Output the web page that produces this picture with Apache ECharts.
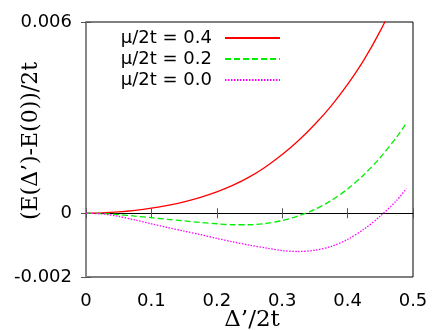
<!DOCTYPE html>
<html>
<head>
<meta charset="utf-8">
<script src="https://cdn.jsdelivr.net/npm/echarts@6/dist/echarts.min.js"></script>
<style>html,body{margin:0;padding:0;background:#fff}#c{width:436px;height:330px}</style>
</head>
<body>
<div id="c"></div>
<script>
var xs = [0, 0.025, 0.05, 0.075, 0.1, 0.125, 0.15, 0.175, 0.2, 0.225, 0.25, 0.275, 0.3, 0.325, 0.35, 0.375, 0.4, 0.425, 0.45, 0.475, 0.49];
var mu04 = [0, 0.00001, 0.00004, 0.00009, 0.00016, 0.00025, 0.00036, 0.0005, 0.00067, 0.00088, 0.00114, 0.00146, 0.00184, 0.00228, 0.00279, 0.00337, 0.00404, 0.00481, 0.00572, 0.00677, null];
var mu02 = [0, -0.00001, -0.00004, -0.00009, -0.00014, -0.00019, -0.00024, -0.00029, -0.00033, -0.00036, -0.00036, -0.00032, -0.00023, -0.00008, 0.00012, 0.0004, 0.00076, 0.00121, 0.00175, 0.00239, 0.00283];
var mu00 = [0, -0.00002, -0.0001, -0.00021, -0.00033, -0.00045, -0.00056, -0.00067, -0.00079, -0.0009, -0.001, -0.00109, -0.00117, -0.0012, -0.00116, -0.00104, -0.00082, -0.0005, -0.00009, 0.0004, 0.00078];
var seriesNames = ['\u03bc/2t = 0.4', '\u03bc/2t = 0.2', '\u03bc/2t = 0.0'];
var yTicks = [-0.002, 0, 0.006];
var yTickLabels = ['-0.002', '0', '0.006'];

function pairs(ys) {
  var out = [];
  for (var i = 0; i < xs.length; i++) { if (ys[i] !== null) out.push([xs[i], ys[i]]); }
  return out;
}

var chart = echarts.init(document.getElementById('c'), null, {renderer: 'canvas'});
var sans = 'DejaVu Sans';
var tickLabel = {fontFamily: sans, fontSize: 18, color: '#000'};
chart.setOption({
  animation: false,
  grid: {left: 86, right: 23, top: 22, bottom: 53, show: true, borderColor: '#000', borderWidth: 1, containLabel: false},
  legend: {
    orient: 'vertical', right: 150, top: 24, align: 'right',
    itemWidth: 55, itemHeight: 10, itemGap: 3,
    itemStyle: {opacity: 0},
    textStyle: {fontFamily: sans, fontSize: 18, color: '#000', lineHeight: 18, padding: [0, 8, 0, 0]},
    data: seriesNames,
    selectedMode: false
  },
  xAxis: [
    {type: 'value', min: 0, max: 0.5, interval: 0.1, position: 'bottom',
     axisLine: {show: true, lineStyle: {color: '#000'}},
     axisTick: {show: true, inside: true, length: 5, lineStyle: {color: '#555'}},
     axisLabel: {show: true, margin: 15, ...tickLabel},
     splitLine: {show: false}},
    {type: 'value', min: 0, max: 0.5, interval: 0.1, position: 'top',
     axisLine: {show: true, lineStyle: {color: '#000'}},
     axisTick: {show: true, inside: true, length: 5, lineStyle: {color: '#555'}},
     axisLabel: {show: false}, splitLine: {show: false}}
  ],
  yAxis: [
    {type: 'value', min: -0.002, max: 0.006, interval: 0.002, position: 'left',
     axisLine: {show: true, lineStyle: {color: '#000'}},
     axisTick: {show: true, inside: true, length: 5, customValues: yTicks, lineStyle: {color: '#555'}},
     axisLabel: {show: true, margin: 14, ...tickLabel,
       formatter: function (v) {
         for (var i = 0; i < yTicks.length; i++) { if (Math.abs(v - yTicks[i]) < 1e-9) return yTickLabels[i]; }
         return '';
       }},
     splitLine: {show: false}},
    {type: 'value', min: -0.002, max: 0.006, interval: 0.002, position: 'right',
     axisLine: {show: true, lineStyle: {color: '#888', width: 2}},
     axisTick: {show: true, inside: true, length: 5, customValues: yTicks, lineStyle: {color: '#555'}},
     axisLabel: {show: false}, splitLine: {show: false}}
  ],
  graphic: [
    {type: 'text', x: 31, y: 141, rotation: Math.PI / 2,
     style: {text: '(E(\u0394\u2019)-E(0))/2t', fontFamily: 'DejaVu Serif', fontSize: 22, fill: '#000', align: 'center', verticalAlign: 'middle'}},
    {type: 'text', x: 252, y: 320,
     style: {text: '\u0394\u2019/2t', fontFamily: 'DejaVu Serif', fontSize: 23, fill: '#000', align: 'center', verticalAlign: 'middle'}}
  ],
  series: [
    {name: seriesNames[0], type: 'line', data: pairs(mu04), showSymbol: false, symbol: 'none', smooth: 0.3, clip: true,
     lineStyle: {color: '#ff0000', width: 1.3, type: 'solid'}, itemStyle: {color: '#ff0000'}},
    {name: seriesNames[1], type: 'line', data: pairs(mu02), showSymbol: false, symbol: 'none', smooth: 0.3, clip: true,
     lineStyle: {color: '#00ee00', width: 1.3, type: [6, 3]}, itemStyle: {color: '#00ee00'}},
    {name: seriesNames[2], type: 'line', data: pairs(mu00), showSymbol: false, symbol: 'none', smooth: 0.3, clip: true,
     lineStyle: {color: '#ff00ff', width: 1.3, type: [1.5, 1.5]}, itemStyle: {color: '#ff00ff'}}
  ]
});
</script>
</body>
</html>
